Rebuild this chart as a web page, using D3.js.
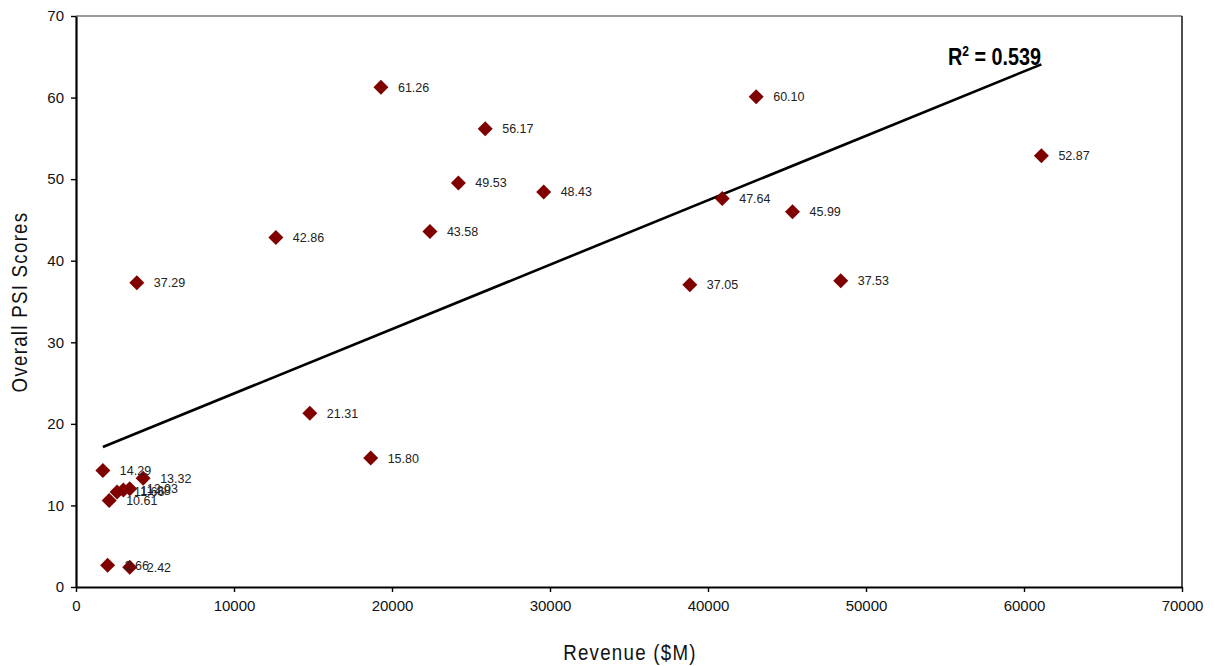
<!DOCTYPE html>
<html><head><meta charset="utf-8">
<script src="https://cdn.jsdelivr.net/npm/d3@7"></script>
<style>
body{margin:0;background:#fff;}
svg{display:block;}
</style></head>
<body>
<svg id="chart" width="1215" height="666"></svg>
<script>
const revenue = [19300, 25900, 43050, 61100, 24200, 29600, 40900, 45350, 12650, 22400, 3850, 38850, 48400, 14800, 18650, 1700, 4250, 3400, 3000, 2600, 2100, 2000, 3400];
const psi =     [61.26, 56.17, 60.10, 52.87, 49.53, 48.43, 47.64, 45.99, 42.86, 43.58, 37.29, 37.05, 37.53, 21.31, 15.80, 14.29, 13.32, 12.03, 11.88, 11.66, 10.61, 2.66, 2.42];
const xTicks = [0, 10000, 20000, 30000, 40000, 50000, 60000, 70000];
const yTicks = [0, 10, 20, 30, 40, 50, 60, 70];
const rSquaredLabel = "0.539";

const svg = d3.select("#chart");
const L = 76, R = 1182, T = 16, B = 587;
const x = d3.scaleLinear().domain([0, 70000]).range([L, R]);
const y = d3.scaleLinear().domain([0, 70]).range([B, T]);

// frame top / right
svg.append("line").attr("x1", L).attr("x2", R).attr("y1", T).attr("y2", T).attr("stroke", "#333").attr("stroke-width", 1.2);
svg.append("line").attr("x1", R).attr("x2", R).attr("y1", T).attr("y2", B).attr("stroke", "#222").attr("stroke-width", 1.6);

const fontTick = "'Liberation Sans', Arial, sans-serif";
const xAxis = svg.append("g").attr("transform", `translate(0,${B})`)
  .call(d3.axisBottom(x).tickValues(xTicks).tickFormat(d3.format("d")).tickSize(5).tickSizeOuter(0).tickPadding(8));
const yAxis = svg.append("g").attr("transform", `translate(${L},0)`)
  .call(d3.axisLeft(y).tickValues(yTicks).tickSize(5).tickSizeOuter(0).tickPadding(7));
[xAxis, yAxis].forEach(g => {
  g.select(".domain").attr("stroke", "#000").attr("stroke-width", 2.2);
  g.selectAll(".tick line").attr("stroke", "#000").attr("stroke-width", 1.4);
  g.selectAll(".tick text").attr("fill", "#111").style("font-family", fontTick).style("font-size", "15px");
});

// trend line (least squares)
const n = revenue.length;
const mx = d3.mean(revenue), my = d3.mean(psi);
let sxy = 0, sxx = 0;
for (let i = 0; i < n; i++) { sxy += (revenue[i]-mx)*(psi[i]-my); sxx += (revenue[i]-mx)**2; }
const b = sxy/sxx, a = my - b*mx;
const [xmin, xmax] = d3.extent(revenue);
svg.append("line")
  .attr("x1", x(xmin)).attr("y1", y(a + b*xmin))
  .attr("x2", x(xmax)).attr("y2", y(a + b*xmax))
  .attr("stroke", "#000").attr("stroke-width", 2.6);

// points
const pts = revenue.map((r, i) => ({r, v: psi[i]}));
svg.append("g").selectAll("path").data(pts).join("path")
  .attr("transform", d => `translate(${x(d.r)},${y(d.v)})`)
  .attr("d", "M0,-7.5L7.5,0L0,7.5L-7.5,0Z")
  .attr("fill", "#800000");

svg.append("g").selectAll("text").data(pts).join("text")
  .attr("x", d => x(d.r) + 17).attr("y", d => y(d.v) + 4.5)
  .text(d => d.v.toFixed(2))
  .style("font-family", fontTick).style("font-size", "12.5px").attr("fill", "#222");

// R^2 label
const rt = svg.append("text").attr("transform", "translate(948,65) scale(0.86,1)")
  .style("font-family", fontTick)
  .style("font-weight", "bold").style("font-size", "23px").attr("fill", "#000");
rt.append("tspan").text("R");
rt.append("tspan").attr("dy", -9).style("font-size", "14px").text("2");
rt.append("tspan").attr("dy", 9).text(" = " + rSquaredLabel);

// axis titles
svg.append("text").attr("transform", "translate(630,660) scale(0.85,1)").attr("text-anchor", "middle")
  .style("font-family", fontTick).style("font-size", "22px").style("letter-spacing", "1.5px")
  .attr("fill", "#111").text("Revenue ($M)");
svg.append("text").attr("transform", "translate(27,302) rotate(-90) scale(0.85,1)").attr("text-anchor", "middle")
  .style("font-family", fontTick).style("font-size", "22px").style("letter-spacing", "1.5px")
  .attr("fill", "#111").text("Overall PSI Scores");
</script>
</body></html>
